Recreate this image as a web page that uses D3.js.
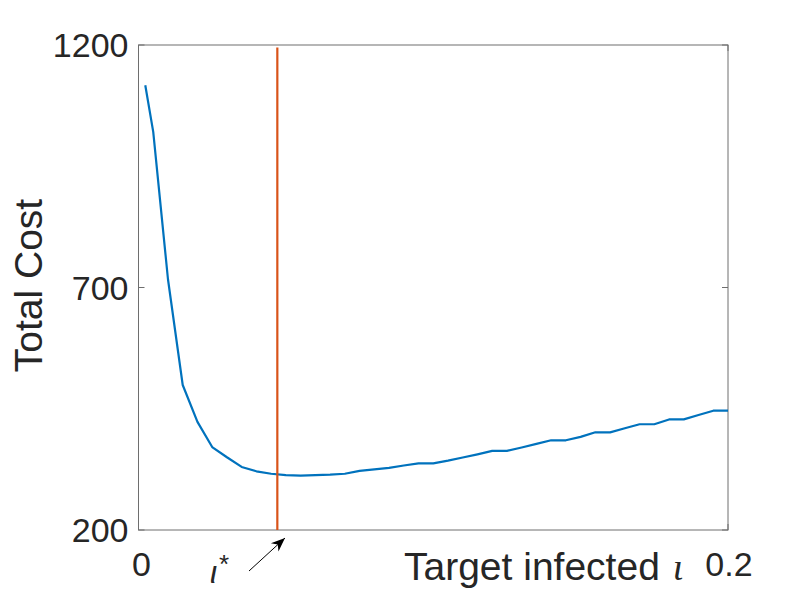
<!DOCTYPE html>
<html><head><meta charset="utf-8">
<script src="https://cdn.jsdelivr.net/npm/d3@7"></script>
<style>body{margin:0;background:#fff}svg{display:block}text{font-family:"Liberation Sans",Arial,sans-serif;fill:#262626}</style>
</head><body>
<svg id="c" width="805" height="595"></svg>
<script>
const xVals = [0.0023,0.005,0.01,0.015,0.02,0.025,0.03,0.035,0.04,0.045,0.05,0.055,0.06,0.065,0.07,0.075,0.08,0.085,0.09,0.095,0.1,0.105,0.11,0.115,0.12,0.125,0.13,0.135,0.14,0.145,0.15,0.155,0.16,0.165,0.17,0.175,0.18,0.185,0.19,0.195,0.2];
const costVals = [1117,1021,717,499,423,371,350,330,321,316,313,312,313,314,316,322,325,328,333,337.5,337.5,343,349.5,356,363,363,370,377.7,385,385,392,401.4,401.4,409.7,418,418,428,428,437,446,446];
const iotaStar = 0.0471;
const xTicks = [0, 0.2];
const yTicks = [200, 700, 1200];

const svg = d3.select("#c");
const L=138.5, R=728, T=45, B=530;
const x = d3.scaleLinear().domain([0,0.2]).range([L,R]);
const y = d3.scaleLinear().domain([200,1200]).range([B,T]);

const axc = "#6e6e6e";
svg.append("rect").attr("x",L).attr("y",T).attr("width",R-L).attr("height",B-T)
  .attr("fill","none").attr("stroke",axc).attr("stroke-width",1);

const tl = 6;
yTicks.forEach(v=>{
  svg.append("line").attr("x1",L).attr("x2",L+tl).attr("y1",y(v)).attr("y2",y(v)).attr("stroke",axc);
  svg.append("line").attr("x1",R).attr("x2",R-tl).attr("y1",y(v)).attr("y2",y(v)).attr("stroke",axc);
  svg.append("text").attr("x",L-10).attr("y",y(v)).attr("dy","0.36em").attr("text-anchor","end")
    .attr("font-size",34).text(v);
});
xTicks.forEach(v=>{
  svg.append("line").attr("x1",x(v)).attr("x2",x(v)).attr("y1",B).attr("y2",B-tl).attr("stroke",axc);
  svg.append("line").attr("x1",x(v)).attr("x2",x(v)).attr("y1",T).attr("y2",T+tl).attr("stroke",axc);
  svg.append("text").attr("x",x(v)+ (v===0?3:1)).attr("y",576).attr("text-anchor","middle")
    .attr("font-size",34).text(v===0?"0":"0.2");
});

svg.append("text").attr("transform",`translate(42,${(T+B)/2 - 2}) rotate(-90)`).attr("text-anchor","middle")
  .attr("font-size",39).text("Total Cost");

const xl = svg.append("text").attr("x",404).attr("y",580).attr("font-size",39);
xl.append("tspan").text("Target infected ");
xl.append("tspan").attr("dx",2).attr("font-family","'Liberation Serif',serif").attr("font-style","italic").attr("font-size",38).text("ι");

const line = d3.line().x((d,i)=>x(xVals[i])).y(d=>y(d));
svg.append("path").datum(costVals).attr("d",line).attr("fill","none")
  .attr("stroke","#0072BD").attr("stroke-width",2.2).attr("stroke-linejoin","round");

svg.append("line").attr("x1",x(iotaStar)).attr("x2",x(iotaStar)).attr("y1",y(200)).attr("y2",y(1195))
  .attr("stroke","#D95319").attr("stroke-width",2.2);

const ann = svg.append("text").attr("x",210).attr("y",583).attr("font-family","'Liberation Serif',serif").attr("font-size",32);
ann.append("tspan").attr("font-style","italic").text("ι");
ann.append("tspan").attr("dx",2).attr("dy",-10).attr("font-size",26).text("*");
svg.append("defs").append("marker").attr("id","ah").attr("viewBox","0 0 10 10").attr("refX",10).attr("refY",5)
  .attr("markerWidth",14).attr("markerHeight",14).attr("markerUnits","userSpaceOnUse").attr("orient","auto")
  .append("path").attr("d","M0,1 L10,5 L0,9 L3,5 Z").attr("fill","#000");
svg.append("line").attr("x1",249).attr("y1",571).attr("x2",285).attr("y2",538)
  .attr("stroke","#000").attr("stroke-width",1).attr("marker-end","url(#ah)");
</script>
</body></html>
